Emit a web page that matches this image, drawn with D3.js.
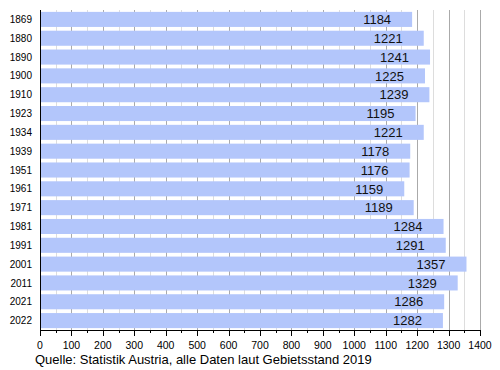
<!DOCTYPE html>
<html>
<head>
<meta charset="utf-8">
<script src="https://cdn.jsdelivr.net/npm/d3@7"></script>
<style>
  body { margin: 0; background: #fff; }
  text { font-family: "Liberation Sans", Arial, sans-serif; }
</style>
</head>
<body>
<svg id="chart" width="500" height="370"></svg>
<script>
const years = ["1869", "1880", "1890", "1900", "1910", "1923", "1934", "1939", "1951", "1961",
               "1971", "1981", "1991", "2001", "2011", "2021", "2022"];
const population = [1184, 1221, 1241, 1225, 1239, 1195, 1221, 1178, 1176, 1159,
                    1189, 1284, 1291, 1357, 1329, 1286, 1282];
const xTicks = [0, 100, 200, 300, 400, 500, 600, 700, 800, 900, 1000, 1100, 1200, 1300, 1400];
const sourceNote = "Quelle: Statistik Austria, alle Daten laut Gebietsstand 2019";

const svg = d3.select("#chart");
const plotLeft = 40, plotRight = 480, plotTop = 10, plotBottom = 330;

const x = d3.scaleLinear().domain([0, 1400]).range([plotLeft, plotRight]);
const y = d3.scaleBand().domain(years).range([plotTop, plotBottom]).paddingInner(0.2).paddingOuter(0.1);

// grid lines: light every 50, darker every 100
const minor = d3.range(50, 1400, 100);
svg.append("g").selectAll("line").data(minor).join("line")
    .attr("x1", d => Math.round(x(d)) + 0.5).attr("x2", d => Math.round(x(d)) + 0.5)
    .attr("y1", plotTop).attr("y2", plotBottom)
    .attr("stroke", "#dddddd");
svg.append("g").selectAll("line").data(xTicks.slice(1)).join("line")
    .attr("x1", d => Math.round(x(d)) + 0.5).attr("x2", d => Math.round(x(d)) + 0.5)
    .attr("y1", plotTop).attr("y2", plotBottom)
    .attr("stroke", "#aaaaaa");

// bars
svg.append("g").selectAll("rect").data(population).join("rect")
    .attr("x", x(0) + 1)
    .attr("y", (d, i) => y(years[i]))
    .attr("width", d => x(d) - x(0) - 1)
    .attr("height", y.bandwidth())
    .attr("fill", "#b3c6fb");

// values inside bars
svg.append("g").selectAll("text").data(population).join("text")
    .attr("x", d => x(d) - 21)
    .attr("y", (d, i) => y(years[i]) + y.bandwidth() / 2)
    .attr("dy", "0.36em")
    .attr("text-anchor", "end")
    .attr("font-size", 13)
    .attr("fill", "#111")
    .text(d => d);

// year labels
svg.append("g").selectAll("text").data(years).join("text")
    .attr("x", 32)
    .attr("y", d => y(d) + y.bandwidth() / 2)
    .attr("dy", "0.36em")
    .attr("text-anchor", "end")
    .attr("font-size", 10)
    .attr("fill", "#000")
    .text(d => d);

// x axis
const axis = svg.append("g").attr("transform", `translate(0,${plotBottom})`);
axis.append("line").attr("x1", plotLeft).attr("x2", plotRight).attr("y1", 0.5).attr("y2", 0.5).attr("stroke", "#000");
axis.selectAll("line.maj").data(xTicks).join("line").attr("class", "maj")
    .attr("x1", d => Math.round(x(d)) + 0.5).attr("x2", d => Math.round(x(d)) + 0.5)
    .attr("y1", 0).attr("y2", 6).attr("stroke", "#000");
axis.selectAll("line.min").data(minor).join("line").attr("class", "min")
    .attr("x1", d => Math.round(x(d)) + 0.5).attr("x2", d => Math.round(x(d)) + 0.5)
    .attr("y1", 0).attr("y2", 3).attr("stroke", "#000");
axis.selectAll("text").data(xTicks).join("text")
    .attr("x", d => x(d))
    .attr("y", 19)
    .attr("text-anchor", "middle")
    .attr("font-size", 10.5)
    .attr("fill", "#000")
    .text(d => d);

// left axis line
svg.append("line").attr("x1", plotLeft + 0.5).attr("x2", plotLeft + 0.5)
    .attr("y1", plotTop).attr("y2", plotBottom).attr("stroke", "#000");

svg.append("text").attr("x", 35).attr("y", 364)
    .attr("font-size", 13).attr("fill", "#000")
    .text(sourceNote);
</script>
</body>
</html>
